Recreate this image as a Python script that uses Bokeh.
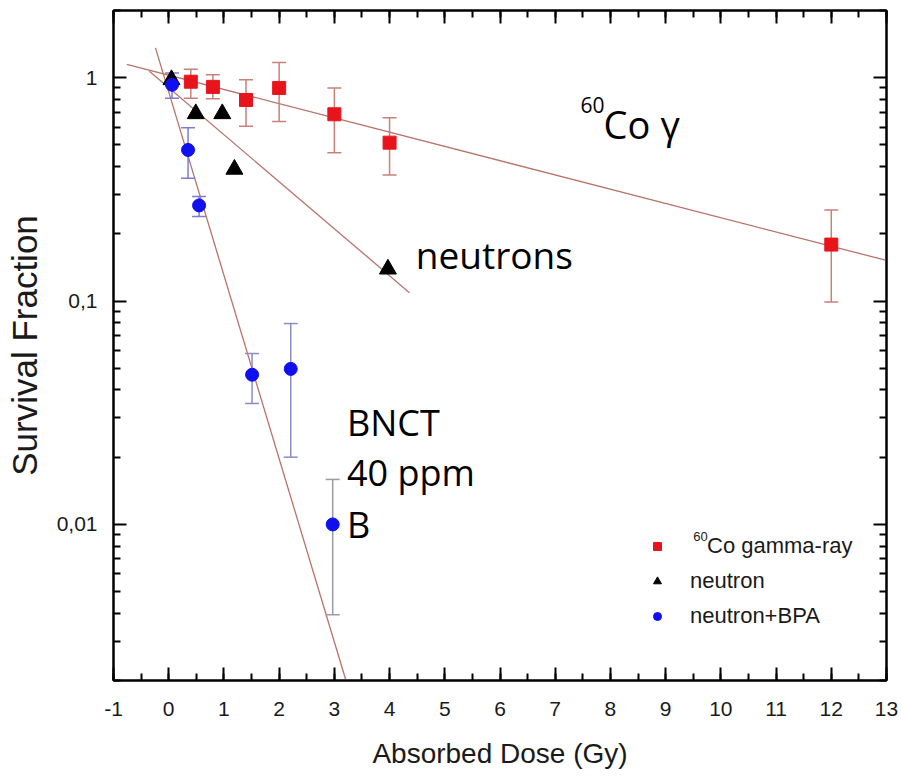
from bokeh.plotting import figure
from bokeh.models import (LinearAxis, LogAxis, Range1d, FixedTicker, SingleIntervalTicker,
                          Label, Legend, LegendItem, ColumnDataSource)
from bokeh.embed import file_html
from bokeh.resources import INLINE

# ---------------- data ----------------
gamma_dose = [0.4, 0.8, 1.4, 2.0, 3.0, 4.0, 12.0]
gamma_sf = [0.96, 0.91, 0.795, 0.90, 0.686, 0.512, 0.179]
gamma_hi = [1.09, 1.03, 0.98, 1.17, 0.90, 0.662, 0.256]
gamma_lo = [0.81, 0.805, 0.606, 0.636, 0.462, 0.367, 0.099]

neutron_dose = [0.05, 0.49, 0.97, 1.19, 3.97]
neutron_sf = [0.98, 0.69, 0.69, 0.389, 0.139]

bpa_dose = [0.06, 0.35, 0.55, 1.51, 2.21, 2.97]
bpa_sf = [0.93, 0.475, 0.268, 0.0468, 0.0497, 0.010]
bpa_hi = [1.05, 0.597, 0.294, 0.0582, 0.0793, 0.0159]
bpa_lo = [0.81, 0.355, 0.239, 0.0348, 0.0200, 0.00394]
bpa_err_colors = ["#7c7cd0", "#7c7cd0", "#7c7cd0", "#8c8cc8", "#8c8cc8", "#9a9aa8"]

gamma_fit_x = [-0.76, 13.0]
gamma_fit_y = [1.148, 0.152]
neutron_fit_x = [-0.35, 4.36]
neutron_fit_y = [1.07, 0.109]
bpa_fit_x = [-0.24, 3.21]
bpa_fit_y = [1.36, 0.002]

x_tick_overrides = {-1: "-1"}
y_major = [0.01, 0.1, 1]
y_major_labels = {0.01: "0,01", 0.1: "0,1", 1: "1"}
y_minor = [m * d for d in (0.001, 0.01, 0.1, 1) for m in range(2, 10) if 0.002 <= m * d <= 2]

legend_labels = ["Co gamma-ray", "neutron", "neutron+BPA"]

# ---------------- figure ----------------
p = figure(width=900, height=776, x_range=Range1d(-1, 13), y_range=Range1d(0.002, 2),
           y_axis_type="log", output_backend="svg", toolbar_location=None,
           min_border_left=113, min_border_right=14, min_border_top=10, min_border_bottom=96,
           background_fill_color="white", border_fill_color="white")
p.grid.visible = False
p.outline_line_color = "black"
p.outline_line_width = 2

TICK_FONT = "Liberation Sans"
x_ticker = SingleIntervalTicker(interval=1, num_minor_ticks=2)
y_ticker = FixedTicker(ticks=y_major, minor_ticks=y_minor)


def style_axis(ax, show_labels):
    ax.axis_line_color = "black"
    ax.axis_line_width = 2
    ax.major_tick_in = 13
    ax.major_tick_out = 0
    ax.minor_tick_in = 7
    ax.minor_tick_out = 0
    ax.major_tick_line_width = 2
    ax.minor_tick_line_width = 2
    ax.major_tick_line_color = "black"
    ax.minor_tick_line_color = "black"
    if show_labels:
        ax.major_label_text_font = TICK_FONT
        ax.major_label_text_font_size = "21px"
        ax.major_label_text_color = "#1a1a1a"
        ax.axis_label_text_font = TICK_FONT
        ax.axis_label_text_font_style = "normal"
        ax.axis_label_text_color = "#1a1a1a"
    else:
        ax.major_label_text_font_size = "0px"
        ax.major_label_text_alpha = 0
        ax.major_label_standoff = 0


xa = p.xaxis[0]
xa.ticker = x_ticker
xa.major_label_overrides = x_tick_overrides
style_axis(xa, True)
xa.axis_label = "Absorbed Dose (Gy)"
xa.axis_label_text_font_size = "28px"
xa.major_label_standoff = 21
xa.axis_label_standoff = 19

ya = p.yaxis[0]
ya.ticker = y_ticker
ya.major_label_overrides = y_major_labels
style_axis(ya, True)
ya.axis_label = "Survival Fraction"
ya.axis_label_text_font_size = "35px"
ya.major_label_standoff = 16
ya.axis_label_standoff = 10

top_ax = LinearAxis(ticker=x_ticker)
style_axis(top_ax, False)
p.add_layout(top_ax, "above")
right_ax = LogAxis(ticker=y_ticker)
style_axis(right_ax, False)
p.add_layout(right_ax, "right")

# ---------------- fit lines ----------------
FIT_COLOR = "#b8746a"
p.line(gamma_fit_x, gamma_fit_y, line_color=FIT_COLOR, line_width=1.3)
p.line(neutron_fit_x, neutron_fit_y, line_color=FIT_COLOR, line_width=1.3)
p.line(bpa_fit_x, bpa_fit_y, line_color=FIT_COLOR, line_width=1.3)

# ---------------- error bars ----------------
g_src = ColumnDataSource(dict(x=gamma_dose, y=gamma_sf, hi=gamma_hi, lo=gamma_lo))
p.segment(x0="x", y0="lo", x1="x", y1="hi", source=g_src, line_color="#c98078", line_width=1.5)
p.scatter(x="x", y="hi", source=g_src, marker="dash", size=14, line_color="#c98078", line_width=1.5)
p.scatter(x="x", y="lo", source=g_src, marker="dash", size=14, line_color="#c98078", line_width=1.5)

b_src = ColumnDataSource(dict(x=bpa_dose, y=bpa_sf, hi=bpa_hi, lo=bpa_lo, c=bpa_err_colors))
p.segment(x0="x", y0="lo", x1="x", y1="hi", source=b_src, line_color="c", line_width=1.5)
p.scatter(x="x", y="hi", source=b_src, marker="dash", size=14, line_color="c", line_width=1.5)
p.scatter(x="x", y="lo", source=b_src, marker="dash", size=14, line_color="c", line_width=1.5)

# ---------------- markers ----------------
r_g = p.scatter(gamma_dose, gamma_sf, marker="square", size=13, fill_color="#e8141c", line_color="#e8141c")
r_n = p.scatter(neutron_dose, neutron_sf, marker="triangle", size=17, fill_color="black", line_color="black")
r_b = p.scatter(bpa_dose, bpa_sf, marker="circle", size=13, fill_color="#1010ee", line_color="#1010ee")

# ---------------- annotations ----------------
ANN_FONT = "Open Sans"


def ann(x, y, text, size):
    p.add_layout(Label(x=x, y=y, text=text, text_font=ANN_FONT, text_font_size=size,
                       text_color="black", text_baseline="alphabetic"))


ann(7.46, 0.754, "60", "21px")
ann(7.875, 0.621, "Co", "38px")
ann(8.906, 0.621, "\u03b3", "38px")
ann(4.476, 0.1615, "neutrons", "37px")
ann(3.228, 0.02851, "BNCT", "36px")
ann(3.228, 0.01703, "40 ppm", "36px")
ann(3.228, 0.00997, "B", "36px")

# ---------------- legend ----------------
common = dict(border_line_color=None, background_fill_alpha=0,
              label_text_font=TICK_FONT, label_text_font_size="22px", label_text_color="#1a1a1a",
              glyph_width=20, glyph_height=32, label_height=32, spacing=3, padding=10)
legend_g = Legend(items=[LegendItem(label=legend_labels[0], renderers=[r_g])],
                  location=(534, 118), label_standoff=40, **common)
legend_n = Legend(items=[LegendItem(label=legend_labels[1], renderers=[r_n]),
                         LegendItem(label=legend_labels[2], renderers=[r_b])],
                  location=(534, 48), label_standoff=23, **common)
p.add_layout(legend_g, "center")
p.add_layout(legend_n, "center")
p.add_layout(Label(x=9.50, y=0.00881, text="60", text_font=TICK_FONT, text_font_size="13px",
                   text_color="#1a1a1a", text_baseline="alphabetic"))

open("out.html", "w").write(file_html(p, INLINE))
